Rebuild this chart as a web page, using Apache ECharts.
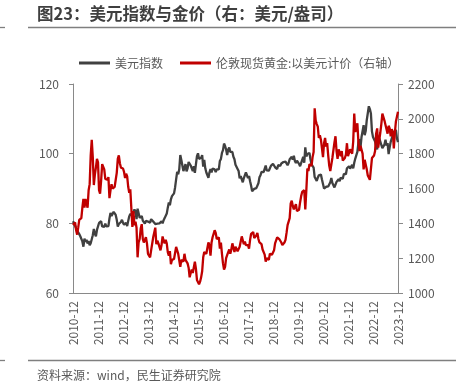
<!DOCTYPE html>
<html><head><meta charset="utf-8">
<script src="https://cdn.jsdelivr.net/npm/echarts@6/dist/echarts.min.js"></script>
<style>html,body{margin:0;padding:0;background:#fff}#c{width:463px;height:386px}</style>
</head><body><div id="c"></div>
<script>
// Semi-monthly observations (1st and 16th of each month), 2010-12 to 2023-12
const categories = [];
for (let y = 2010, m = 12; ; ) {
  const mm = String(m).padStart(2, '0');
  categories.push(y + '-' + mm + '-01');
  if (y === 2023 && m === 12) break;
  categories.push(y + '-' + mm + '-16');
  m++; if (m > 12) { m = 1; y++; }
}

const dxy = [
  80.6, 80.3,
  79.3, 78.6, 77.9, 77.5, 76.9, 76.3, 76.0, 74.8, 73.3, 75.6, 74.7, 75.3, 74.2, 74.9, 73.7, 74.3, 74.1, 76.6, 78.4, 77.0, 76.3, 78.1, 78.4, 80.1,
  80.2, 80.6, 79.1, 79.3, 79.0, 79.9, 79.1, 79.5, 79.2, 81.4, 83.0, 82.1, 81.8, 83.3, 82.8, 82.4, 81.0, 79.1, 79.8, 79.7, 80.4, 81.0, 80.2, 79.6,
  79.8, 80.1, 79.2, 80.7, 82.0, 82.7, 83.0, 82.1, 81.7, 84.0, 83.4, 81.2, 84.2, 82.9, 81.6, 81.3, 82.1, 80.8, 80.3, 79.9, 80.7, 80.9, 80.5, 80.3,
  80.2, 81.2, 81.2, 80.5, 80.1, 79.8, 80.2, 79.9, 79.5, 80.0, 80.5, 80.6, 80.0, 80.9, 81.5, 82.0, 82.8, 84.5, 86.0, 85.2, 86.9, 87.8, 88.3, 88.6,
  90.3, 92.6, 94.8, 94.1, 95.5, 99.6, 98.2, 97.7, 95.0, 95.1, 97.0, 94.9, 95.8, 97.6, 97.4, 96.6, 95.8, 95.0, 96.4, 94.5, 96.9, 99.3, 100.1, 98.5,
  98.9, 98.8, 99.6, 96.3, 98.2, 95.8, 94.6, 94.6, 93.1, 94.6, 95.6, 94.6, 95.7, 96.2, 95.5, 94.7, 95.5, 96.0, 95.5, 97.9, 98.5, 100.2, 101.0, 102.9,
  102.2, 101.2, 99.6, 101.2, 101.8, 100.5, 100.2, 100.5, 99.1, 98.4, 96.8, 97.0, 95.6, 95.0, 92.9, 93.6, 92.6, 91.8, 93.0, 93.1, 94.6, 93.8, 93.0, 93.6,
  92.1, 90.8, 89.2, 89.0, 89.9, 90.1, 90.1, 89.6, 91.5, 93.2, 93.8, 94.8, 94.6, 94.7, 94.5, 96.6, 95.2, 94.8, 95.1, 95.4, 96.5, 96.9, 97.1, 97.0,
  96.1, 95.8, 95.6, 96.7, 96.4, 96.5, 97.2, 96.9, 97.6, 97.8, 97.7, 97.5, 96.7, 97.3, 98.4, 98.2, 99.1, 98.3, 99.4, 97.9, 97.3, 98.0, 98.1, 97.1,
  96.4, 97.3, 97.6, 99.1, 97.4, 101.8, 99.2, 99.9, 99.6, 100.2, 98.3, 96.9, 97.4, 96.0, 93.3, 93.0, 92.2, 93.1, 93.8, 93.7, 94.0, 92.6, 91.3, 90.0,
  89.9, 90.5, 90.6, 90.6, 91.0, 91.8, 93.0, 91.6, 91.1, 90.3, 90.1, 91.9, 92.3, 92.7, 92.1, 93.1, 92.6, 92.8, 94.2, 93.9, 94.1, 95.8, 96.0, 96.4,
  95.7, 95.2, 96.8, 95.8, 97.4, 98.6, 98.6, 100.5, 103.2, 104.2, 101.8, 104.8, 105.1, 108.2, 105.3, 106.5, 109.6, 109.8, 113.6, 112.8, 111.5, 106.4, 104.8, 104.4,
  103.5, 102.2, 101.2, 103.9, 104.5, 104.2, 102.5, 101.6, 101.6, 102.6, 104.0, 102.3, 103.0, 99.9, 101.8, 103.4, 103.6, 105.3, 106.2, 106.3, 106.8, 104.4, 103.3
];

const gold = [
  1390, 1382,
  1405, 1360, 1335, 1375, 1420, 1420, 1430, 1490, 1540, 1490, 1540, 1530, 1490, 1590, 1625, 1790, 1880, 1780, 1620, 1680, 1720, 1770, 1750, 1590,
  1570, 1645, 1740, 1750, 1710, 1655, 1665, 1650, 1665, 1545, 1590, 1625, 1600, 1590, 1610, 1605, 1690, 1770, 1790, 1745, 1720, 1715, 1715, 1695,
  1660, 1685, 1670, 1610, 1575, 1595, 1600, 1380, 1470, 1390, 1410, 1375, 1205, 1290, 1310, 1370, 1395, 1310, 1290, 1280, 1320, 1285, 1225, 1230,
  1205, 1245, 1245, 1320, 1330, 1375, 1280, 1300, 1285, 1295, 1245, 1275, 1325, 1300, 1285, 1305, 1285, 1235, 1215, 1240, 1165, 1190, 1180, 1195,
  1185, 1265, 1275, 1225, 1215, 1150, 1190, 1200, 1180, 1225, 1190, 1180, 1170, 1145, 1090, 1115, 1135, 1115, 1115, 1180, 1140, 1075, 1065, 1050,
  1065, 1090, 1125, 1205, 1235, 1240, 1225, 1235, 1290, 1275, 1215, 1290, 1320, 1330, 1360, 1345, 1310, 1315, 1320, 1255, 1290, 1225, 1170, 1135,
  1150, 1200, 1210, 1235, 1250, 1225, 1250, 1285, 1260, 1235, 1265, 1255, 1240, 1230, 1265, 1275, 1325, 1320, 1280, 1295, 1275, 1280, 1275, 1255,
  1305, 1340, 1345, 1350, 1315, 1315, 1330, 1345, 1310, 1290, 1295, 1280, 1250, 1240, 1220, 1180, 1200, 1200, 1190, 1225, 1215, 1220, 1225, 1245,
  1285, 1290, 1320, 1320, 1310, 1300, 1290, 1275, 1280, 1290, 1305, 1345, 1390, 1410, 1430, 1515, 1530, 1500, 1480, 1490, 1510, 1470, 1465, 1478,
  1520, 1555, 1580, 1585, 1590, 1480, 1590, 1715, 1700, 1740, 1735, 1730, 1780, 1810, 2060, 1990, 1970, 1955, 1890, 1905, 1880, 1870, 1780, 1860,
  1890, 1840, 1860, 1790, 1730, 1700, 1690, 1775, 1780, 1865, 1900, 1815, 1770, 1825, 1815, 1785, 1815, 1760, 1750, 1775, 1795, 1860, 1785, 1795,
  1825, 1815, 1800, 1870, 2030, 1925, 1935, 1975, 1865, 1815, 1845, 1840, 1800, 1710, 1765, 1775, 1710, 1675, 1665, 1650, 1640, 1775, 1780, 1790,
  1815, 1915, 1945, 1835, 1830, 1920, 1970, 2030, 2040, 1990, 1965, 1955, 1915, 1960, 1945, 1900, 1940, 1925, 1830, 1920, 1985, 1975, 2040
];

const seriesNames = ['美元指数', '伦敦现货黄金:以美元计价（右轴）'];
const titleText = '图23：美元指数与金价（右：美元/盎司）';
const sourceText = '资料来源：wind，民生证券研究院';

const FONT = "'Noto Sans CJK SC', 'Noto Sans', sans-serif";
const chart = echarts.init(document.getElementById('c'), null, { renderer: 'canvas' });
chart.setOption({
  animation: false,
  backgroundColor: '#fff',
  textStyle: { fontFamily: FONT },
  graphic: [
    { type: 'text', left: 37, top: 5, style: { text: titleText, font: 'bold 16.5px ' + FONT, fill: '#3f3f3f' } },
    { type: 'line', shape: { x1: 28, y1: 27.5, x2: 456, y2: 27.5 }, style: { stroke: '#7f7f7f', lineWidth: 1.3 } },
    { type: 'line', shape: { x1: 0, y1: 27.5, x2: 5, y2: 27.5 }, style: { stroke: '#7f7f7f', lineWidth: 1.3 } },
    { type: 'line', shape: { x1: 28, y1: 360.5, x2: 456, y2: 360.5 }, style: { stroke: '#7f7f7f', lineWidth: 1.3 } },
    { type: 'line', shape: { x1: 0, y1: 360.5, x2: 5, y2: 360.5 }, style: { stroke: '#7f7f7f', lineWidth: 1.3 } },
    { type: 'text', left: 37, top: 369, style: { text: sourceText, font: '12px ' + FONT, fill: '#595959' } }
  ],
  legend: {
    data: seriesNames,
    left: 74, top: 52,
    icon: 'rect', itemWidth: 31, itemHeight: 3, itemGap: 17,
    textStyle: { fontSize: 12, color: '#595959', fontFamily: FONT }
  },
  grid: { left: 73, right: 65, top: 84, bottom: 93 },
  xAxis: {
    type: 'category', data: categories, boundaryGap: false,
    axisLine: { lineStyle: { color: '#898989', width: 1 } },
    axisTick: { show: false },
    splitLine: { show: false },
    axisLabel: { interval: 23, rotate: 90, margin: 8, color: '#595959', fontSize: 12, fontFamily: FONT, formatter: v => v.slice(0, 7) }
  },
  yAxis: [
    {
      type: 'value', min: 60, max: 120, interval: 20, position: 'left',
      axisLine: { show: true, lineStyle: { color: '#898989', width: 1 } },
      axisTick: { show: true, length: 4, lineStyle: { color: '#898989' } },
      splitLine: { show: false },
      axisLabel: { margin: 14, color: '#595959', fontSize: 12, fontFamily: FONT, formatter: v => String(v) }
    },
    {
      type: 'value', min: 1000, max: 2200, interval: 200, position: 'right',
      axisLine: { show: true, lineStyle: { color: '#898989', width: 1 } },
      axisTick: { show: true, length: 5, lineStyle: { color: '#898989' } },
      splitLine: { show: false },
      axisLabel: { margin: 10, color: '#595959', fontSize: 12, fontFamily: FONT, formatter: v => String(v) }
    }
  ],
  series: [
    { name: seriesNames[0], type: 'line', data: dxy, yAxisIndex: 0, showSymbol: false, symbol: 'none',
      lineStyle: { color: '#404040', width: 2.3 }, itemStyle: { color: '#404040' } },
    { name: seriesNames[1], type: 'line', data: gold, yAxisIndex: 1, showSymbol: false, symbol: 'none',
      lineStyle: { color: '#C00000', width: 2.3 }, itemStyle: { color: '#C00000' } }
  ]
});
</script>
</body></html>
